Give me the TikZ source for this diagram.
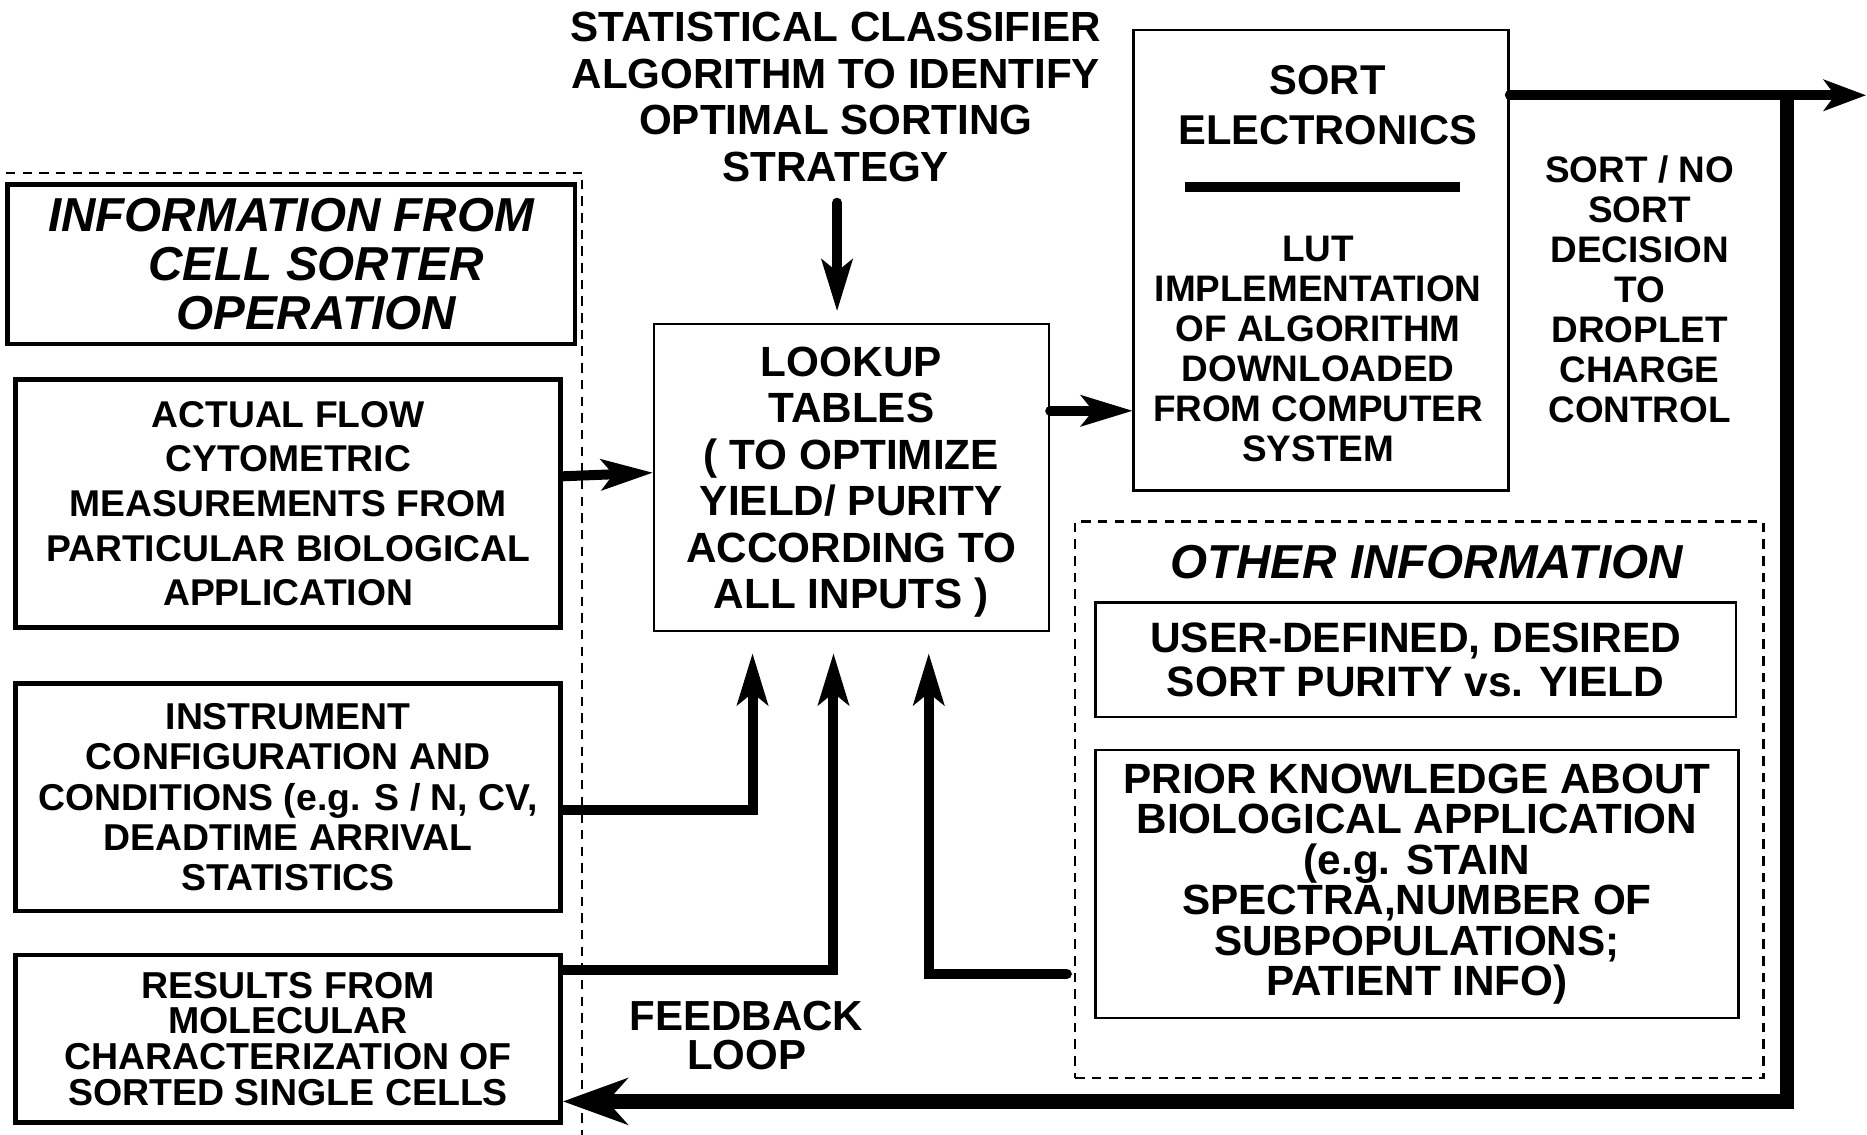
\documentclass[tikz,border=0pt]{standalone}
\usepackage{fontspec}
\setmainfont{Liberation Sans}
\usetikzlibrary{arrows.meta,calc}
\begin{document}
\begin{tikzpicture}[x=1pt,y=-1pt,
  every node/.style={align=center, inner sep=0pt},
  thickbox/.style={draw, line width=4pt},
  thinbox/.style={draw, line width=2pt},
  dashbox/.style={draw, line width=1.8pt, dash pattern=on 8pt off 6pt},
  arr/.style={line width=8.4pt, line cap=round, -{Stealth[length=44pt,width=27pt,inset=11pt,line width=0pt]}},
  outarr/.style={line width=8.4pt, line cap=round, -{Stealth[length=36pt,width=27pt,inset=10pt,line width=0pt]}},
  backarr/.style={line width=12pt, line cap=butt, -{Stealth[length=55pt,width=40pt,inset=18pt,line width=0pt]}},
]
\useasboundingbox (0,0) rectangle (1568,953);

% left dashed region
\draw[dashbox] (5,145) -- (489,145) -- (489,953);

\node[thickbox, minimum width=477pt, minimum height=134pt, font={\bfseries\itshape\fontsize{40}{41}\selectfont}] (info) at (244.5,222)
  {INFORMATION FROM\\\hspace*{42pt}CELL SORTER\\\hspace*{42pt}OPERATION};

\node[thickbox, minimum width=458pt, minimum height=208pt, font={\bfseries\fontsize{31.3}{37.5}\selectfont}] (actual) at (242,423)
  {ACTUAL FLOW\\CYTOMETRIC\\MEASUREMENTS FROM\\PARTICULAR BIOLOGICAL\\APPLICATION};

\node[thickbox, minimum width=458pt, minimum height=191pt, font={\bfseries\fontsize{31.4}{33.7}\selectfont}] (instr) at (242,669.5)
  {INSTRUMENT\\CONFIGURATION AND\\CONDITIONS (e.g. S / N, CV,\\DEADTIME ARRIVAL\\STATISTICS};

\node[thickbox, minimum width=458pt, minimum height=141pt, font={\bfseries\fontsize{31.5}{30}\selectfont}] (results) at (242,872.5)
  {RESULTS FROM\\MOLECULAR\\CHARACTERIZATION OF\\SORTED SINGLE CELLS};

\node[font={\bfseries\fontsize{35.4}{39}\selectfont}] (title) at (702,81.5)
  {STATISTICAL CLASSIFIER\\ALGORITHM TO IDENTIFY\\OPTIMAL SORTING\\STRATEGY};

\node[thinbox, minimum width=332pt, minimum height=258pt] (lookup) at (715,401) {};
\node[font={\bfseries\fontsize{35.5}{39}\selectfont}] (lookuptext) at (715,405)
  {LOOKUP\\TABLES\\( TO OPTIMIZE\\YIELD/ PURITY\\ACCORDING TO\\ALL INPUTS )};

\node[thinbox, minimum width=315pt, minimum height=387pt] (sortbox) at (1109.5,218.5) {};
\node[font={\bfseries\fontsize{35}{42}\selectfont}] (sorthead) at (1115,88) {SORT\\ELECTRONICS};
\draw[line width=8pt] (995,157) -- (1226,157);
\node[font={\bfseries\fontsize{31}{33.6}\selectfont}] (lut) at (1107,293)
  {LUT\\IMPLEMENTATION\\OF ALGORITHM\\DOWNLOADED\\FROM COMPUTER\\SYSTEM};

\node[font={\bfseries\fontsize{31}{33.7}\selectfont}] (decision) at (1377,243)
  {SORT / NO\\SORT\\DECISION\\TO\\DROPLET\\CHARGE\\CONTROL};

\node[dashbox, minimum width=578pt, minimum height=467pt] (other) at (1192,671.5) {};
\node[font={\bfseries\itshape\fontsize{40}{41}\selectfont}] (otherhead) at (1198,472) {OTHER INFORMATION};

\node[thinbox, minimum width=538pt, minimum height=96pt, font={\bfseries\fontsize{35.7}{37}\selectfont}] (user) at (1189,554)
  {USER-DEFINED, DESIRED\\SORT PURITY vs. YIELD};

\node[thinbox, minimum width=540pt, minimum height=225pt, font={\bfseries\fontsize{35.5}{34}\selectfont}] (prior) at (1190,742.5)
  {PRIOR KNOWLEDGE ABOUT\\BIOLOGICAL APPLICATION\\(e.g. STAIN\\SPECTRA,NUMBER OF\\SUBPOPULATIONS;\\PATIENT INFO)};

\node[font={\bfseries\fontsize{35.3}{33}\selectfont}] (feedback) at (627,869.5) {FEEDBACK\\LOOP};

% connectors
\draw[arr] ($(title.south)+(1,17.5)$) -- ($(lookup.north)+(-12,-10)$);
\draw[arr] ($(actual.east)+(0,-23)$) -- ($(lookup.west)+(0,-4)$);
\draw[arr] ($(lookup.east)+(0,-56)$) -- ($(lookup.east -| sortbox.west)+(0,-56)$);
\draw[arr] ($(instr.east)+(0,10.5)$) -| ($(lookup.south)+(-83,18)$);
\draw[arr] ($(results.east)+(0,-57.5)$) -| ($(lookup.south)+(-15,18)$);
\draw[arr] ($(prior.west)+(-23,75.5)$) -| ($(lookup.south)+(65,18)$);

\coordinate (outend) at (1567,80);
\coordinate (branch) at (1501,80);
\coordinate (corner) at (1501,925);
\draw[outarr] ($(sortbox.east)+(0,-138.5)$) -- (outend);
\draw[backarr] (branch) -- (corner) -- ($(results.east)+(0,52.5)$);
\end{tikzpicture}
\end{document}
